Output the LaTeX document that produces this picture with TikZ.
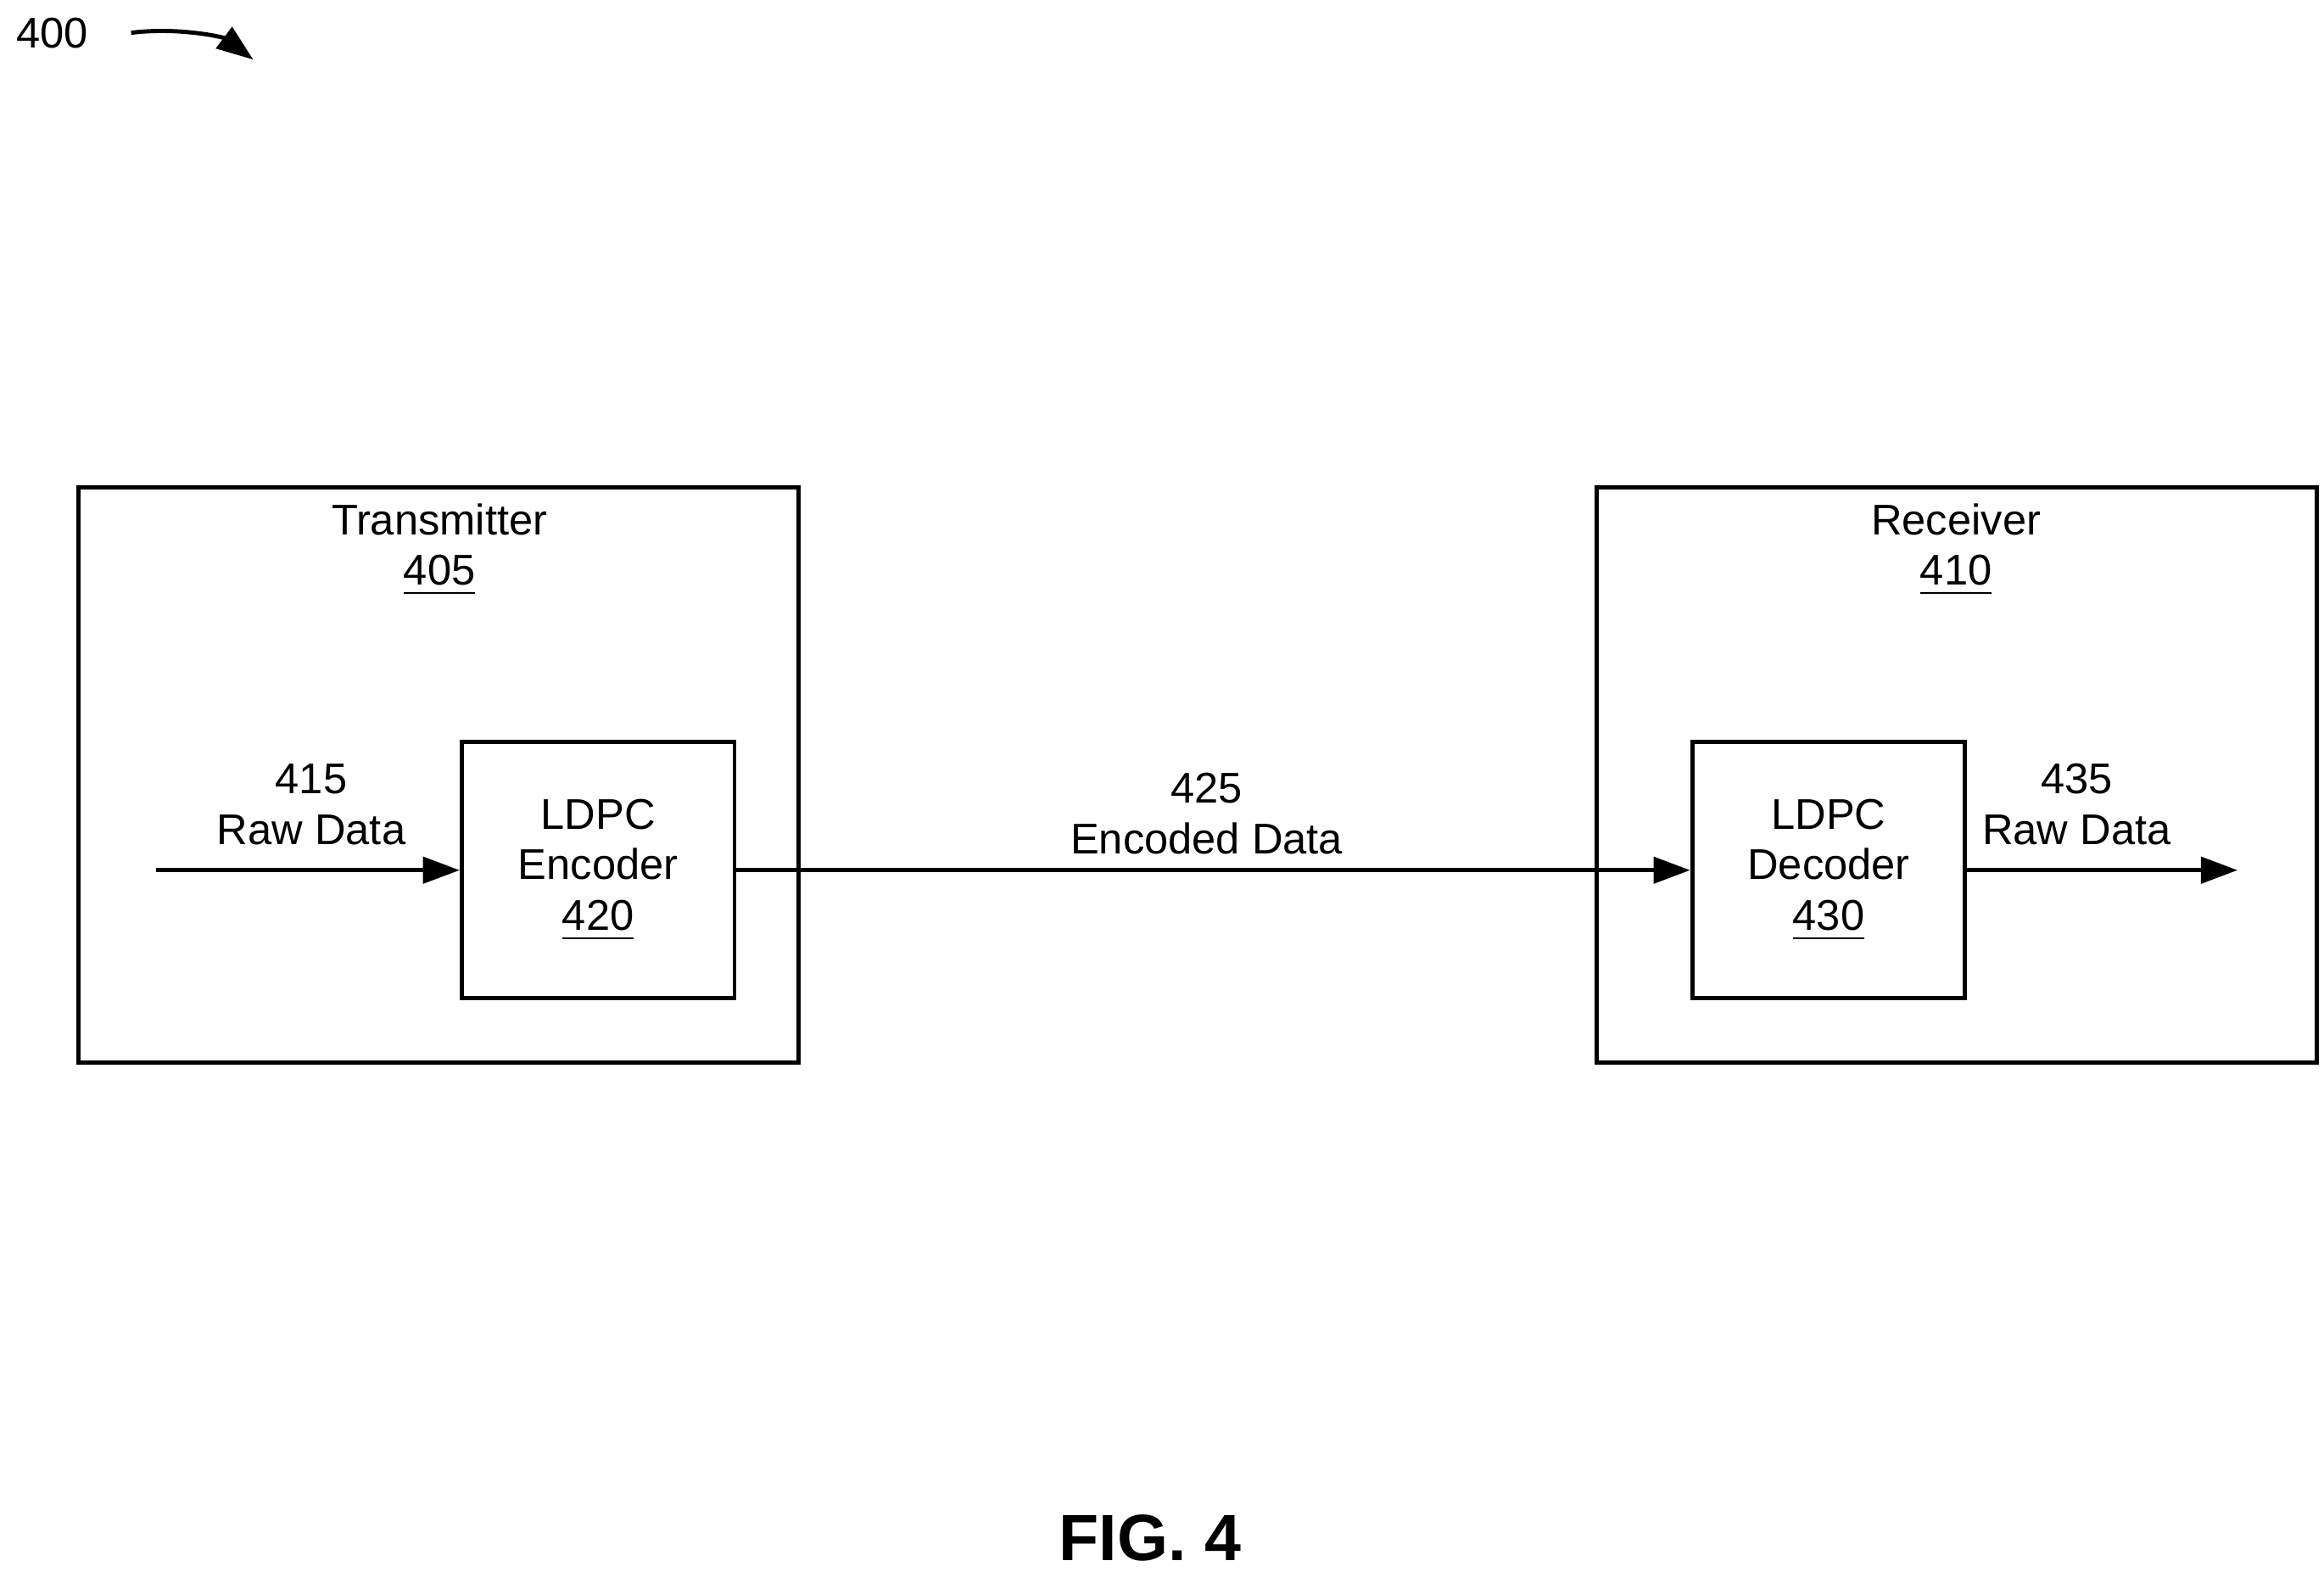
\documentclass[tikz,border=0pt]{standalone}
\usepackage{fontspec}
\setmainfont{Liberation Sans}
\usepackage{tikz}
\usetikzlibrary{arrows.meta,positioning}

\begin{document}
\begin{tikzpicture}[
    x=0.01cm, y=-0.01cm,
    every node/.style={font=\fontsize{8.2}{9.7}\selectfont, align=center},
    outer/.style={rectangle, draw, line width=0.8pt, minimum width=4.83cm, minimum height=3.86cm},
    inner/.style={rectangle, draw, line width=0.8pt, minimum width=1.83cm, minimum height=1.72cm},
    arrow/.style={-{Triangle[length=7pt,width=5pt]}, line width=0.8pt}
]
\useasboundingbox (0,0) rectangle (1560,1055);

\node[outer] (tx) at (294.5,520) {};
\node[outer] (rx) at (1313.5,520) {};
\node (txlbl) at (295,369) {Transmitter\\\underline{405}};
\node (rxlbl) at (1313,369) {Receiver\\\underline{410}};

\node[inner] (enc) at (401.5,584) {LDPC\\Encoder\\\underline{420}};
\node[inner] (dec) at (1227.5,584) {LDPC\\Decoder\\\underline{430}};

\coordinate (in) at (105,584);
\coordinate (out) at (1502,584);

\draw[arrow] (in) -- (enc);
\draw[arrow] (enc) -- (dec);
\draw[arrow] (dec) -- (out);

\node (rawin) at (209,540) {415\\Raw Data};
\node (encdata) at (810,546) {425\\Encoded Data};
\node (rawout) at (1394,540) {435\\Raw Data};

% figure reference
\node (ref) at (35,22) {400};
\coordinate (refend) at (170,40);
\draw[arrow] (88,22) .. controls (120,18) and (150,25) .. (refend);

\node[font=\bfseries\fontsize{12.5}{14}\selectfont] (fig) at (772,1032) {FIG. 4};
\end{tikzpicture}
\end{document}
